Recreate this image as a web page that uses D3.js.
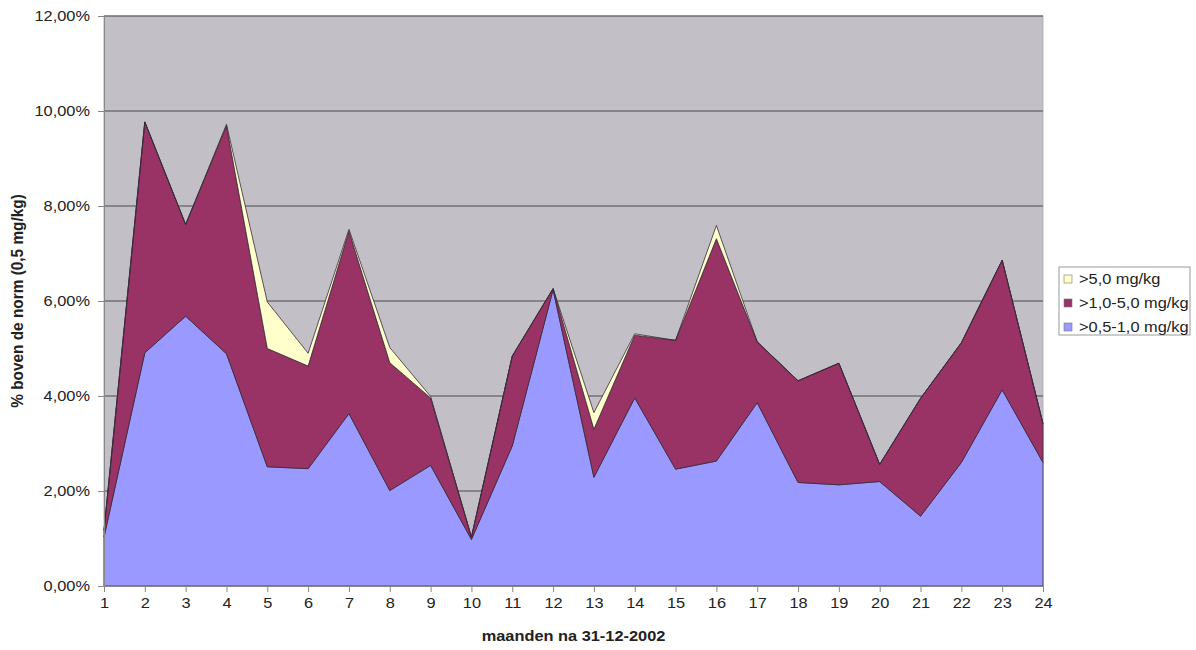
<!DOCTYPE html>
<html>
<head>
<meta charset="utf-8">
<script src="https://cdn.jsdelivr.net/npm/d3@7"></script>
<style>
  body { margin: 0; background: #fff; }
  svg { display: block; font-family: "Liberation Sans", Arial, sans-serif; }
</style>
</head>
<body>
<svg id="chart" width="1196" height="650"></svg>
<script>
// Months after 31-12-2002
const months = d3.range(1, 25);

// Share of samples above the norm (%), per concentration class
const low  = [1.03, 4.91, 5.68, 4.89, 2.51, 2.47, 3.63, 2.01, 2.54, 0.98, 2.95, 6.24,
              2.29, 3.96, 2.46, 2.63, 3.86, 2.18, 2.13, 2.20, 1.47, 2.60, 4.13, 2.60];
const mid  = [0.14, 4.86, 1.93, 4.80, 2.49, 2.16, 3.84, 2.69, 1.42, 0.05, 1.89, 0.02,
              1.01, 1.32, 2.71, 4.68, 1.28, 2.14, 2.56, 0.36, 2.48, 2.52, 2.73, 0.82];
const high = [0.00, 0.00, 0.00, 0.03, 0.98, 0.27, 0.04, 0.32, 0.03, 0.00, 0.00, 0.00,
              0.35, 0.03, 0.00, 0.28, 0.00, 0.00, 0.00, 0.00, 0.00, 0.00, 0.00, 0.00];

const seriesNames = [">0,5-1,0 mg/kg", ">1,0-5,0 mg/kg", ">5,0 mg/kg"];
const seriesColors = ["#9999ff", "#993366", "#ffffcc"];
const yTicks = [0, 2, 4, 6, 8, 10, 12];

// text in this chart is set slightly wide
const stretch = 1.17;

const svg = d3.select("#chart");
const plot = { left: 104, right: 1043, top: 16, bottom: 586 };

const x = d3.scaleLinear().domain([1, 24]).range([plot.left, plot.right]);
const y = d3.scaleLinear().domain([0, 12]).range([plot.bottom, plot.top]);

const table = months.map((m, i) => ({ month: m, low: low[i], mid: mid[i], high: high[i] }));
const stack = d3.stack().keys(["low", "mid", "high"]);
const layers = stack(table);

// plot background
svg.append("rect")
  .attr("x", plot.left).attr("y", plot.top)
  .attr("width", plot.right - plot.left).attr("height", plot.bottom - plot.top)
  .attr("fill", "#c2bfc6")
  .attr("stroke", "#b4b2b6").attr("stroke-width", 1);

// gridlines
svg.append("g")
  .selectAll("line")
  .data(yTicks.filter(t => t > 0))
  .join("line")
  .attr("x1", plot.left).attr("x2", plot.right)
  .attr("y1", d => y(d)).attr("y2", d => y(d))
  .attr("stroke", "#4a4a4a").attr("stroke-width", 1);

// stacked areas
const area = d3.area()
  .x(d => x(d.data.month))
  .y0(d => y(d[0]))
  .y1(d => y(d[1]));

svg.append("g")
  .selectAll("path")
  .data(layers)
  .join("path")
  .attr("d", area)
  .attr("fill", (d, i) => seriesColors[i])
  .attr("stroke", "#3a2a3a")
  .attr("stroke-width", 0.8)
  .attr("stroke-linejoin", "round");

// y axis
const yAxis = d3.axisLeft(y)
  .tickValues(yTicks)
  .tickSize(6)
  .tickPadding(6)
  .tickFormat(d => d.toFixed(2).replace(".", ",") + "%");
const gy = svg.append("g")
  .attr("transform", `translate(${plot.left},0)`)
  .call(yAxis);
gy.select(".domain").attr("stroke", "#888");
gy.selectAll(".tick line").attr("stroke", "#888");
gy.selectAll(".tick text")
  .attr("font-size", 14).attr("fill", "#222")
  .attr("font-family", "'Liberation Sans', Arial, sans-serif")
  .attr("x", -14 / stretch)
  .attr("transform", `scale(${stretch},1)`);

// x axis
const xAxis = d3.axisBottom(x)
  .tickValues(months)
  .tickSize(6)
  .tickPadding(6)
  .tickFormat(d3.format("d"));
const gx = svg.append("g")
  .attr("transform", `translate(0,${plot.bottom})`)
  .call(xAxis);
gx.select(".domain").attr("stroke", "#888");
gx.selectAll(".tick line").attr("stroke", "#888");
gx.selectAll(".tick text")
  .attr("font-size", 14).attr("fill", "#222")
  .attr("font-family", "'Liberation Sans', Arial, sans-serif")
  .attr("transform", `scale(${stretch},1)`);

// axis titles
svg.append("text")
  .attr("transform", `translate(${(plot.left + plot.right) / 2},641) scale(${stretch},1)`)
  .attr("text-anchor", "middle")
  .attr("font-size", 14).attr("font-weight", "bold").attr("fill", "#222")
  .text("maanden na 31-12-2002");

svg.append("text")
  .attr("transform", `translate(23,${(plot.top + plot.bottom) / 2}) rotate(-90) scale(1.1,${stretch})`)
  .attr("text-anchor", "middle")
  .attr("font-size", 14).attr("font-weight", "bold").attr("fill", "#222")
  .text("% boven de norm (0,5 mg/kg)");

// legend (top entry is the top layer)
const legend = svg.append("g").attr("transform", "translate(1059,267)");
legend.append("rect")
  .attr("width", 131).attr("height", 68)
  .attr("fill", "#fff").attr("stroke", "#999");
const legendItems = [2, 1, 0];
const rows = legend.selectAll("g.item")
  .data(legendItems)
  .join("g")
  .attr("class", "item")
  .attr("transform", (d, i) => `translate(5,${12 + i * 24})`);
rows.append("rect")
  .attr("x", 0).attr("y", -4).attr("width", 8).attr("height", 8)
  .attr("fill", d => seriesColors[d]).attr("stroke", "#777").attr("stroke-width", 0.6);
rows.append("text")
  .attr("transform", `translate(15,5) scale(${stretch},1)`)
  .attr("font-size", 14).attr("fill", "#222")
  .text(d => seriesNames[d]);
</script>
</body>
</html>
